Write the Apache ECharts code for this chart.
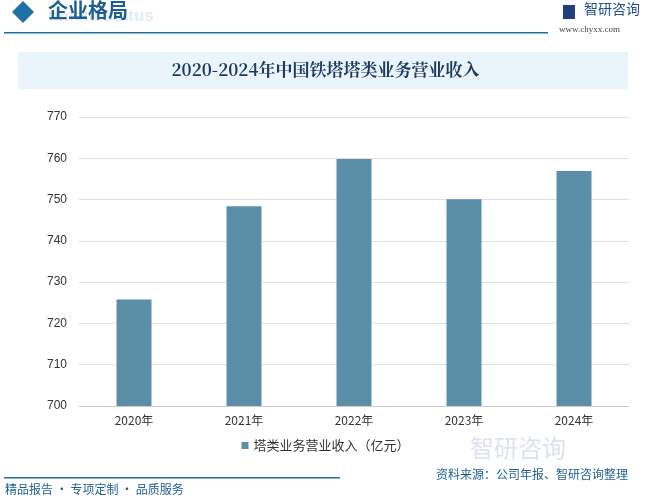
<!DOCTYPE html>
<html><head><meta charset="utf-8">
<script src="https://cdn.jsdelivr.net/npm/echarts@6/dist/echarts.min.js"></script>
<style>body{margin:0;background:#fff}#c{width:651px;height:500px}</style>
</head><body><div id="c"></div>
<script>
const categories = ['2020年','2021年','2022年','2023年','2024年'];
const revenue = [725.8, 748.4, 759.8, 750.1, 756.9];
const yTicks = [700,710,720,730,740,750,760,770];
const seriesName = '塔类业务营业收入（亿元）';
const chart = echarts.init(document.getElementById('c'));
const F = '"Noto Sans CJK SC", sans-serif';
chart.setOption({
  animation:false,
  graphic:[
    {type:'text',left:48,top:8,style:{text:'nment status',font:'bold 17px Arial',fill:'#e3ecf4'}},
    {type:'polygon',shape:{points:[[12,12],[23,1],[34,12],[23,23]]},style:{fill:'#1f6fa8'}},
    {type:'text',left:48,top:0,style:{text:'企业格局',font:'bold 20px '+F,fill:'#1f5f8f'}},
    {type:'rect',shape:{x:4,y:32,width:544,height:1.5},style:{fill:'#1f6fa8'}},
    {type:'text',left:584,top:2,style:{text:'智研咨询',font:'14px '+F,fill:'#1f4f8f'}},
    {type:'rect',shape:{x:563,y:5,width:12,height:14},style:{fill:'#1f3f7f'}},
    {type:'text',left:559,top:25,style:{text:'www.chyxx.com',font:'9px serif',fill:'#444'}},
    {type:'rect',shape:{x:18,y:52,width:610,height:37},style:{fill:'#e9f4fb'}},
    {type:'text',left:'center',top:61,style:{text:'2020-2024年中国铁塔塔类业务营业收入',font:'bold 17px "Noto Serif CJK SC", serif',fill:'#1e3a5f'}},
    {type:'rect',shape:{x:4,y:477,width:336,height:1.5},style:{fill:'#1f6fa8'}},
    {type:'text',left:5,top:483,style:{text:'精品报告 · 专项定制 · 品质服务',font:'12px '+F,fill:'#1f5f8f'}},
    {type:'text',left:436,top:468,style:{text:'资料来源：公司年报、智研咨询整理',font:'12px '+F,fill:'#1f5f8f'}},
    {type:'text',left:470,top:436,style:{text:'智研咨询',font:'24px '+F,fill:'#dde3ea'}}
  ],
  grid:{left:79,right:22,top:117,bottom:94,containLabel:false},
  legend:{top:434,left:'center',itemWidth:7,itemHeight:7,icon:'rect',textStyle:{fontSize:13,color:'#333',fontFamily:F},data:[seriesName]},
  xAxis:{type:'category',data:categories,axisTick:{show:false},axisLine:{lineStyle:{color:'#ccc'}},axisLabel:{color:'#333',fontSize:12,fontFamily:F,margin:8}},
  yAxis:{type:'value',min:yTicks[0],max:yTicks[yTicks.length-1],interval:10,axisLabel:{color:'#333',fontSize:12,margin:12},splitLine:{lineStyle:{color:'#e0e0e0'}},axisLine:{show:false}},
  series:[{name:seriesName,type:'bar',data:revenue,barWidth:35,itemStyle:{color:'#5b8fa8'}}]
});
</script></body></html>
